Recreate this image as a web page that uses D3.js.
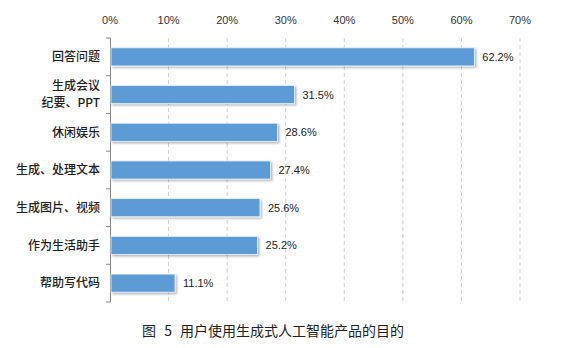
<!DOCTYPE html>
<html>
<head>
<meta charset="utf-8">
<script src="https://cdn.jsdelivr.net/npm/d3@7"></script>
<style>
  body { margin: 0; background: #fff; }
</style>
</head>
<body>
<div id="chart"></div>
<script>
// data
var categories = ["回答问题", "生成会议\n纪要、PPT", "休闲娱乐", "生成、处理文本", "生成图片、视频", "作为生活助手", "帮助写代码"];
var values = [62.2, 31.5, 28.6, 27.4, 25.6, 25.2, 11.1];
var tickValues = [0, 10, 20, 30, 40, 50, 60, 70];
var caption = "图 5 用户使用生成式人工智能产品的目的";

var W = 561, H = 348;
var margin = { top: 38, left: 110, right: 41, bottom: 46 };

var svg = d3.select("#chart").append("svg")
  .attr("width", W)
  .attr("height", H);

var defs = svg.append("defs");
var f = defs.append("filter").attr("id", "shadow")
  .attr("x", "-5%").attr("y", "-20%").attr("width", "110%").attr("height", "160%");
f.append("feDropShadow").attr("dx", 1.5).attr("dy", 1.5).attr("stdDeviation", 0.8)
  .attr("flood-color", "#000").attr("flood-opacity", 0.3);

var g = svg.append("g").attr("transform", "translate(" + margin.left + "," + margin.top + ")");

var x = d3.scaleLinear().domain([0, 70]).range([0, 410]);
var y = d3.scaleBand().domain(categories).range([0, 264]).paddingInner(0.52).paddingOuter(0.26);

// grid lines
g.selectAll("line.grid")
  .data(tickValues.slice(1))
  .enter().append("line")
  .attr("class", "grid")
  .attr("x1", d => x(d)).attr("x2", d => x(d))
  .attr("y1", 0).attr("y2", 264)
  .attr("stroke", "#cfcfcf")
  .attr("stroke-width", 1)
  .attr("stroke-dasharray", "4,3");

// top axis labels
g.selectAll("text.tick")
  .data(tickValues)
  .enter().append("text")
  .attr("class", "tick")
  .attr("x", d => x(d))
  .attr("y", -14)
  .attr("text-anchor", "middle")
  .attr("font-family", "Arial, 'Liberation Sans', sans-serif")
  .attr("font-size", 11)
  .attr("fill", "#333")
  .text(d => d + "%");

// left axis line and ticks between categories
g.append("line")
  .attr("x1", 0.5).attr("x2", 0.5)
  .attr("y1", 0).attr("y2", 264)
  .attr("stroke", "#888");
g.selectAll("line.ytick")
  .data(d3.range(categories.length + 1))
  .enter().append("line")
  .attr("class", "ytick")
  .attr("x1", -4).attr("x2", 0.5)
  .attr("y1", i => i * 264 / categories.length)
  .attr("y2", i => i * 264 / categories.length)
  .attr("stroke", "#888");

// bars
g.selectAll("rect.bar")
  .data(values)
  .enter().append("rect")
  .attr("class", "bar")
  .attr("x", 1)
  .attr("y", (d, i) => y(categories[i]))
  .attr("width", d => x(d) - 1)
  .attr("height", y.bandwidth())
  .attr("fill", "#5b9bd5")
  .attr("stroke", "#eaf2fa")
  .attr("stroke-width", 0.8)
  .attr("filter", "url(#shadow)");

// value labels
g.selectAll("text.val")
  .data(values)
  .enter().append("text")
  .attr("class", "val")
  .attr("x", d => x(d) + 8)
  .attr("y", (d, i) => y(categories[i]) + y.bandwidth() / 2)
  .attr("dy", "0.36em")
  .attr("font-family", "Arial, 'Liberation Sans', sans-serif")
  .attr("font-size", 11)
  .attr("fill", "#222")
  .text(d => d.toFixed(1) + "%");

// category labels
g.selectAll("text.cat")
  .data(categories)
  .enter().append("text")
  .attr("class", "cat")
  .attr("text-anchor", "end")
  .attr("font-family", "'Noto Sans CJK SC', sans-serif")
  .attr("font-size", 12)
  .attr("font-weight", 500)
  .attr("fill", "#222")
  .each(function(d) {
    var lines = d.split("\n");
    var cy = y(d) + y.bandwidth() / 2;
    var t = d3.select(this);
    lines.forEach(function(l, k) {
      t.append("tspan")
        .attr("x", -10)
        .attr("y", cy + (k - (lines.length - 1) / 2) * 17)
        .attr("dy", "0.36em")
        .text(l);
    });
  });

// caption
svg.append("text")
  .attr("x", 142)
  .attr("y", 336)
  .attr("font-family", "'Noto Sans CJK SC', serif")
  .attr("font-size", 14)
  .attr("word-spacing", 5)
  .attr("fill", "#222")
  .text(caption);
</script>
</body>
</html>
